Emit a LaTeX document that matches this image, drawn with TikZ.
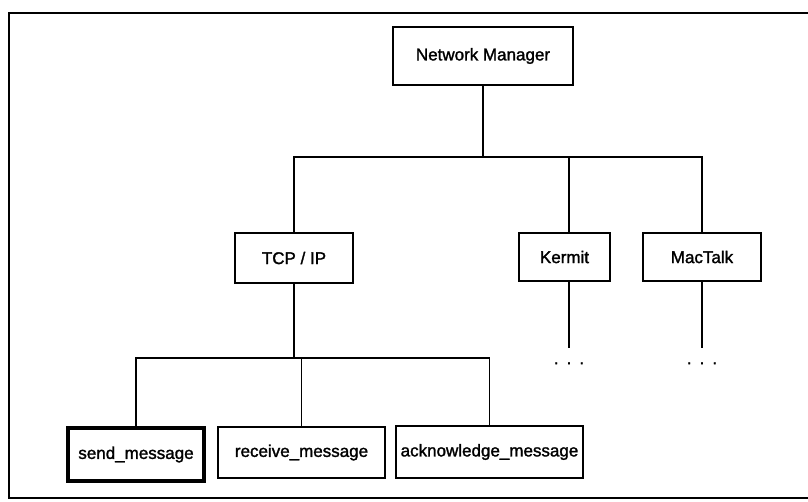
\documentclass[tikz,border=0pt]{standalone}
\usepackage{fontspec}
\newfontfamily\labelfont{Liberation Sans}[FakeBold=1.6]
\begin{document}
\begin{tikzpicture}[x=1pt,y=-1pt,
  every node/.style={font=\labelfont\fontsize{17}{20}\selectfont},
  module/.style={draw, line width=1.4pt, inner sep=0pt, align=center},
  link/.style={line width=1.3pt},
  dots/.style={inner sep=0pt, text height=16pt, text depth=0pt, anchor=north}]
  \useasboundingbox (0,0) rectangle (808,502);
  % outer frame, open at the right edge
  \begin{scope}
    \clip (0,0) rectangle (808,502);
    \draw[line width=2pt] (9,13) rectangle (840,498);
  \end{scope}

  % top level
  \node[module, minimum width=180pt, minimum height=58pt] (nm) at (483,56) {Network Manager};

  % protocols
  \node[module, minimum width=118pt, minimum height=50pt] (tcp) at (294,258) {TCP / IP};
  \node[module, minimum width=91pt, minimum height=48pt] (kermit) at (564.5,257) {Kermit};
  \node[module, minimum width=118pt, minimum height=48pt] (mac) at (702,257) {MacTalk};

  % TCP / IP operations
  \node[module, line width=4pt, minimum width=136pt, minimum height=53pt] (send) at (136,454.5) {send\_message};
  \node[module, minimum width=167pt, minimum height=51pt] (recv) at (301.5,452.5) {receive\_message};
  \node[module, minimum width=187pt, minimum height=52pt] (ack) at (489.5,452) {acknowledge\_message};

  % continuation marks
  \node[dots] (kdots) at (569,348) {.\hspace{8pt}.\hspace{8pt}.};
  \node[dots] (mdots) at (702,348) {.\hspace{8pt}.\hspace{8pt}.};

  % upper tree
  \coordinate (bus1) at (0,157);
  \draw[link] (nm.south) -- (nm.south |- bus1);
  \draw[link] (tcp.north) |- (mac.north |- bus1) -- (mac.north);
  \draw[link] (kdots.north |- kermit.north) -- (kdots.north |- bus1);

  % lower tree
  \coordinate (bus2) at (0,358);
  \draw[link] (tcp.south) -- (tcp.south |- bus2);
  \draw[link] (send.north) |- (ack.north |- bus2) -- (ack.north);
  \draw[link] (recv.north) -- (recv.north |- bus2);

  % dangling branches
  \draw[link] (kdots.north |- kermit.south) -- (kdots.north);
  \draw[link] (mac.south) -- (mdots.north);
\end{tikzpicture}
\end{document}
